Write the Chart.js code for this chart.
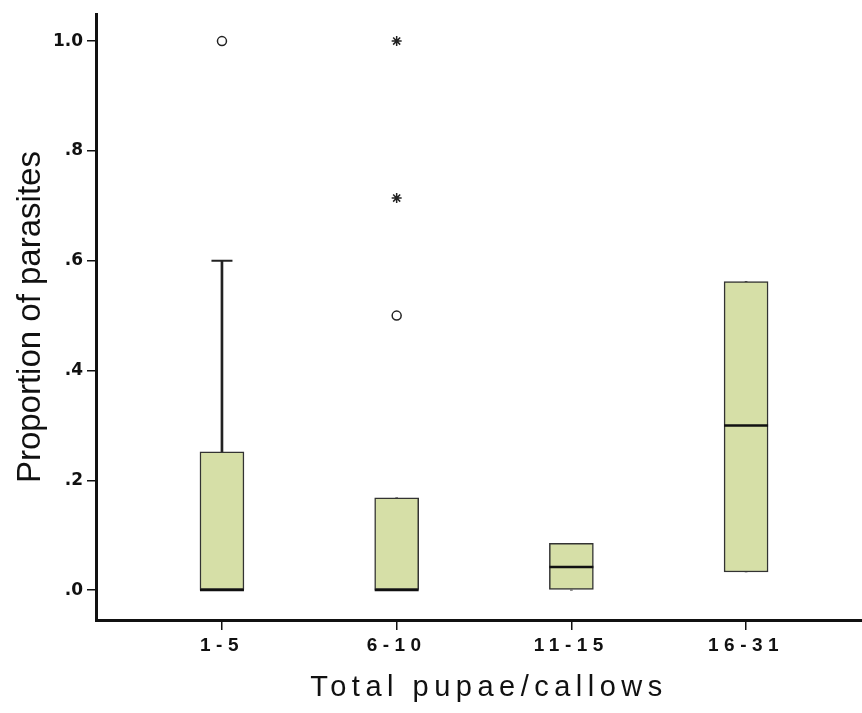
<!DOCTYPE html>
<html>
<head>
<meta charset="utf-8">
<script src="https://cdn.jsdelivr.net/npm/chart.js@4.4.0/dist/chart.umd.min.js"></script>
<style>
  html, body { margin: 0; padding: 0; background: #fff; overflow: hidden; }
  canvas { display: block; }
</style>
</head>
<body>
<!-- el eje x sigue un poco mas alla del borde derecho -->
<canvas id="grafico" width="882" height="713"></canvas>
<script>
// datos
const categorias = ['1-5', '6-10', '11-15', '16-31'];
const cuartil1 = [0, 0, 0, 0.033];
const medianas = [0, 0, 0.042, 0.30];
const cuartil3 = [0.252, 0.168, 0.085, 0.562];
const bigoteMin = [0, 0, 0, 0.033];
const bigoteMax = [0.60, 0.168, 0.085, 0.562];

const atipicosGrupo = ['1-5', '6-10'];
const atipicosValor = [1.0, 0.5];
const extremosGrupo = ['6-10', '6-10'];
const extremosValor = [1.0, 0.714];

const marcasY = [0, 0.2, 0.4, 0.6, 0.8, 1.0];
const etiquetasY = ['.0', '.2', '.4', '.6', '.8', '1.0'];

const posX = g => categorias.indexOf(g) + 1;

// tramos de bigote (debajo y encima de la caja)
const bigotes = [];
categorias.forEach((c, i) => {
    bigotes.push({ x: i + 1, y: [bigoteMin[i], cuartil1[i]] });
    bigotes.push({ x: i + 1, y: [cuartil3[i], bigoteMax[i]] });
});

const topes = [];
categorias.forEach((c, i) => {
    if (bigoteMax[i] > cuartil3[i]) topes.push({ x: i + 1, y: bigoteMax[i] });
    if (bigoteMin[i] < cuartil1[i]) topes.push({ x: i + 1, y: bigoteMin[i] });
});

// el eje x se dibuja despues de los datos, con espaciado de letras
const espaciado = {
    id: 'espaciado',
    afterDatasetsDraw(chart) { chart.ctx.letterSpacing = '5.5px'; },
    afterDraw(chart) { chart.ctx.letterSpacing = '0px'; }
};

const ctx = document.getElementById('grafico').getContext('2d');
new Chart(ctx, {
    type: 'bar',
    data: {
        datasets: [
            {
                type: 'scatter',
                data: categorias.map((c, i) => ({ x: i + 1, y: medianas[i] })),
                pointStyle: 'line',
                radius: 22,
                borderColor: '#111',
                borderWidth: 2.5,
                order: 0
            },
            {
                type: 'scatter',
                data: atipicosGrupo.map((g, i) => ({ x: posX(g), y: atipicosValor[i] })),
                pointStyle: 'circle',
                radius: 4.5,
                backgroundColor: '#fff',
                borderColor: '#222',
                borderWidth: 1.5,
                order: 0
            },
            {
                type: 'scatter',
                data: extremosGrupo.map((g, i) => ({ x: posX(g), y: extremosValor[i] })),
                pointStyle: 'star',
                radius: 5,
                borderColor: '#222',
                borderWidth: 1.5,
                order: 0
            },
            {
                type: 'scatter',
                data: topes,
                pointStyle: 'line',
                radius: 10.5,
                borderColor: '#222',
                borderWidth: 2,
                order: 1
            },
            {
                data: categorias.map((c, i) => ({ x: i + 1, y: [cuartil1[i], cuartil3[i]] })),
                backgroundColor: '#d6dfa7',
                borderColor: '#333',
                borderWidth: 1.5,
                borderSkipped: false,
                barThickness: 44,
                grouped: false,
                order: 2
            },
            {
                data: bigotes,
                backgroundColor: '#222',
                borderWidth: 0,
                barThickness: 2,
                grouped: false,
                order: 3
            }
        ]
    },
    options: {
        responsive: false,
        animation: false,
        layout: { autoPadding: false, padding: { top: 7, right: 0, left: 0, bottom: 0 } },
        plugins: {
            legend: { display: false },
            tooltip: { enabled: false }
        },
        scales: {
            x: {
                type: 'linear',
                offset: false,
                min: 0.279,
                max: 4.778,
                afterFit: s => { s.height = 93; },
                afterBuildTicks: s => { s.ticks = categorias.map((c, i) => ({ value: i + 1 })); },
                border: { color: '#111', width: 3, z: 1 },
                grid: { offset: false, drawOnChartArea: false, drawTicks: true, tickLength: 10, color: '#111', lineWidth: 1.5, z: 1 },
                ticks: {
                    z: 1,
                    autoSkip: false,
                    maxRotation: 0,
                    padding: 4,
                    color: '#111',
                    font: { family: 'Liberation Sans', size: 19, weight: 'bold' },
                    callback: v => categorias[v - 1]
                },
                title: {
                    display: true,
                    text: 'Total pupae/callows',
                    color: '#111',
                    font: { family: 'Liberation Sans', size: 29 },
                    padding: { top: 0, bottom: 8 }
                }
            },
            y: {
                min: -0.0545,
                max: 1.049,
                afterFit: s => { s.width = 96; },
                afterBuildTicks: s => { s.ticks = marcasY.map(v => ({ value: v })); },
                border: { color: '#111', width: 3 },
                grid: { drawOnChartArea: false, drawTicks: true, tickLength: 9, color: '#111', lineWidth: 1.5 },
                ticks: {
                    padding: 4,
                    color: '#111',
                    font: { family: 'DejaVu Sans', size: 17, weight: 'bold' },
                    callback: v => etiquetasY[marcasY.indexOf(v)]
                },
                title: {
                    display: true,
                    text: 'Proportion of parasites',
                    color: '#111',
                    font: { family: 'Liberation Sans', size: 33 },
                    padding: { top: 11, bottom: 0 }
                }
            }
        }
    },
    plugins: [espaciado]
});
</script>
</body>
</html>
